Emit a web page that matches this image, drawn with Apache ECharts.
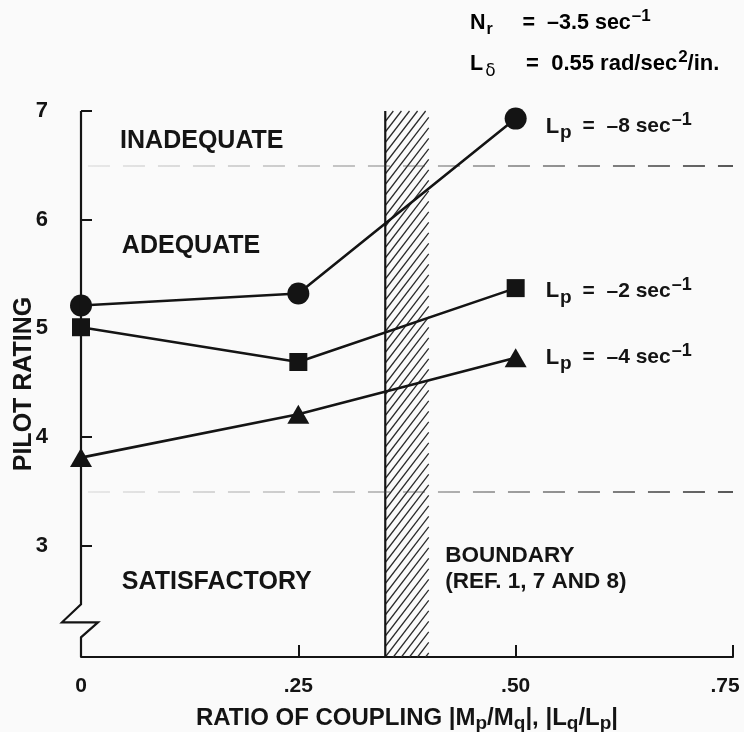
<!DOCTYPE html>
<html><head><meta charset="utf-8">
<script src="https://cdn.jsdelivr.net/npm/echarts@6/dist/echarts.min.js"></script>
<style>html,body{margin:0;padding:0;background:#fafafa}#c{width:744px;height:732px}</style>
</head><body><div id="c"></div>
<script>
// ---- data ----
const xTickValues = [0, 0.25, 0.5, 0.75];
const xTickLabels = ['0', '.25', '.50', '.75'];
const yTickValues = [3, 4, 5, 6, 7];
const couplingRatio = [0.0, 0.25, 0.5];
const ratingLp8 = [5.21, 5.32, 6.93];   // circles, Lp = -8
const ratingLp2 = [5.01, 4.69, 5.37];   // squares, Lp = -2
const ratingLp4 = [3.81, 4.21, 4.73];   // triangles, Lp = -4
const boundaryBand = [0.35, 0.40];
const regionLimits = [6.5, 3.5];
const regionNames = ['INADEQUATE', 'ADEQUATE', 'SATISFACTORY'];
const seriesNames = ['Lp = -8', 'Lp = -2', 'Lp = -4'];
const seriesLabelValues = ['–8', '–2', '–4'];

const FONT = 'Liberation Sans';
const INK = '#141414';
const yMin = 1.975, yMax = 7;

const chart = echarts.init(document.getElementById('c'), null, {renderer: 'canvas'});

function lpLabel(v) {
  return '{L|L}{sub|p}{eq| =  ' + v + ' sec}{sup|–1}';
}
const lpRich = {
  L: {fontFamily: FONT, fontWeight: 'bold', fontSize: 22, color: INK},
  sub: {fontFamily: FONT, fontWeight: 'bold', fontSize: 19, color: INK, padding: [13, 0, 0, 1]},
  eq: {fontFamily: FONT, fontWeight: 'bold', fontSize: 21, color: INK, padding: [0, 0, 0, 5]},
  sup: {fontFamily: FONT, fontWeight: 'bold', fontSize: 18, color: INK, padding: [0, 0, 13, 1]}
};

function makeLine(name, data, symbol, size, lbl, dy) {
  return {
    name: name, type: 'line',
    data: couplingRatio.map((x, i) => [x, data[i]]),
    symbol: symbol, symbolSize: size, showSymbol: true,
    lineStyle: {color: INK, width: 2.6},
    itemStyle: {color: INK},
    z: 5, silent: true, animation: false,
    endLabel: {
      show: true, distance: 30, offset: [0, dy],
      formatter: () => lpLabel(lbl), rich: lpRich
    }
  };
}

function hatchRender(params, api) {
  const x0 = api.coord([api.value(0), yMax])[0];
  const x1 = api.coord([api.value(1), yMax])[0];
  const yTop = api.coord([0, yMax])[1];
  const yBot = api.coord([0, yMin])[1];
  const w = x1 - x0, k = 1.3, step = 10.5;
  const children = [];
  for (let yb = yTop + step; yb < yBot + w * k; yb += step) {
    let sx = x0, sy = yb, ex = x1, ey = yb - w * k;
    if (sy > yBot) { sx = x0 + (sy - yBot) / k; sy = yBot; }
    if (ey < yTop) { ex = x0 + (yb - yTop) / k; ey = yTop; }
    if (sx >= ex) continue;
    children.push({type: 'line', shape: {x1: sx, y1: sy, x2: ex, y2: ey},
      style: {stroke: '#2a2a2a', lineWidth: 1.25}});
  }
  children.push({type: 'line', shape: {x1: x0, y1: yTop, x2: x0, y2: yBot},
    style: {stroke: INK, lineWidth: 2.2}});
  return {type: 'group', children: children};
}

const dashGrad = {type: 'linear', x: 0, y: 0, x2: 1, y2: 0,
  colorStops: [{offset: 0, color: 'rgba(60,60,60,0.12)'}, {offset: 0.5, color: 'rgba(60,60,60,0.45)'}, {offset: 1, color: 'rgba(20,20,20,0.95)'}]};

const option = {
  backgroundColor: '#fafafa',
  animation: false,
  grid: {left: 81, right: 11, top: 111, bottom: 75, containLabel: false, outerBoundsMode: 'none'},
  xAxis: {
    type: 'value', min: 0, max: 0.75,
    axisLine: {show: true, lineStyle: {color: INK, width: 2}},
    axisTick: {show: true, inside: true, length: 12, customValues: xTickValues.slice(1), lineStyle: {color: INK, width: 2}},
    axisLabel: {show: true, customValues: xTickValues, margin: 19,
      formatter: v => {
        const i = xTickValues.indexOf(+v.toFixed(2));
        if (i < 0) return '';
        return i === xTickValues.length - 1 ? '{e|' + xTickLabels[i] + '}' : xTickLabels[i];
      },
      rich: {e: {fontFamily: FONT, fontWeight: 'bold', fontSize: 21, color: INK, padding: [0, 16, 0, 0]}},
      fontFamily: FONT, fontWeight: 'bold', fontSize: 21, color: INK},
    splitLine: {show: false},
    name: '{t|RATIO OF COUPLING |M}{s|p}{t|/M}{s|q}{t||, |L}{s|q}{t|/L}{s|p}{t||}',
    nameLocation: 'middle', nameGap: 46, nameMoveOverlap: false,
    nameTextStyle: {rich: {
      t: {fontFamily: FONT, fontWeight: 'bold', fontSize: 24, color: INK},
      s: {fontFamily: FONT, fontWeight: 'bold', fontSize: 19, color: INK, padding: [11, 0, 0, 0]}
    }}
  },
  yAxis: {
    type: 'value', min: yMin, max: yMax,
    axisLine: {show: false},
    axisTick: {show: true, inside: true, length: 11, customValues: yTickValues, lineStyle: {color: INK, width: 2}},
    axisLabel: {show: true, customValues: yTickValues, margin: 33,
      fontFamily: FONT, fontWeight: 'bold', fontSize: 22, color: INK},
    splitLine: {show: false},
    name: 'PILOT RATING', nameLocation: 'middle', nameGap: 44, nameRotate: 90, nameMoveOverlap: false,
    nameTextStyle: {fontFamily: FONT, fontWeight: 'bold', fontSize: 25, color: INK}
  },
  series: [
    {
      name: 'boundary', type: 'custom', renderItem: hatchRender,
      data: [boundaryBand], silent: true, z: 2, clip: false
    },
    {
      name: 'limits', type: 'line', data: [], silent: true, z: 1,
      markLine: {
        silent: true, symbol: 'none', animation: false,
        label: {show: false},
        lineStyle: {type: [22, 13], width: 1.6, color: dashGrad},
        data: regionLimits.map(v => [{coord: [0.008, v]}, {coord: [0.75, v]}])
      }
    },
    makeLine(seriesNames[0], ratingLp8, 'circle', 22, seriesLabelValues[0], 8),
    makeLine(seriesNames[1], ratingLp2, 'rect', 18, seriesLabelValues[1], 3),
    makeLine(seriesNames[2], ratingLp4, 'triangle', [22, 19], seriesLabelValues[2], 0)
  ]
};
chart.setOption(option);

// axis line with break and text annotations positioned via the chart's own scales
const px = (x, y) => chart.convertToPixel({gridIndex: 0}, [x, y]);
const pTop = px(0, yMax), pBot = px(0, yMin), pBrk = px(0, 2.46);
const ax = pTop[0];
const bigStyle = {fontFamily: FONT, fontWeight: 'bold', fontSize: 25, fill: INK};
const smallStyle = {fontFamily: FONT, fontWeight: 'bold', fontSize: 22.5, fill: INK};
const textAt = (x, y, text, st) => {
  const p = px(x, y);
  return {type: 'text', x: p[0], y: p[1], silent: true, z: 10,
    style: Object.assign({text: text, verticalAlign: 'middle'}, st)};
};
const richTop = {
  b: {fontFamily: FONT, fontWeight: 'bold', fontSize: 21.5, color: INK},
  b2: {fontFamily: FONT, fontWeight: 'bold', fontSize: 22, color: INK},
  sub: {fontFamily: FONT, fontWeight: 'bold', fontSize: 16, color: INK, padding: [13, 0, 0, 1]},
  sup: {fontFamily: FONT, fontWeight: 'bold', fontSize: 17, color: INK, padding: [0, 0, 13, 1]},
  gsub: {fontFamily: 'DejaVu Sans', fontSize: 17, color: INK, padding: [15, 0, 0, 2]}
};
chart.setOption({
  graphic: [
    {type: 'polyline', silent: true, z: 10,
      shape: {points: [
        [ax, pTop[1]], [ax, pBrk[1]], [ax - 19, pBrk[1] + 18], [ax + 17, pBrk[1] + 18],
        [ax, pBrk[1] + 33], [ax, pBot[1]]
      ]},
      style: {stroke: INK, lineWidth: 2.2, fill: null}},
    textAt(0.045, 6.72, regionNames[0], bigStyle),
    textAt(0.047, 5.76, regionNames[1], bigStyle),
    textAt(0.047, 2.66, regionNames[2], bigStyle),
    textAt(0.419, 2.91, 'BOUNDARY', smallStyle),
    textAt(0.419, 2.67, '(REF. 1, 7 AND 8)', smallStyle),
    {type: 'text', x: 470, y: 23, silent: true, z: 10,
      style: {text: '{b|N}{sub|r}{b|     =  –3.5 sec}{sup|–1}', rich: richTop, verticalAlign: 'middle'}},
    {type: 'text', x: 470, y: 64, silent: true, z: 10,
      style: {text: '{b|L}{gsub|δ}{b2|     =  0.55 rad/sec}{sup|2}{b2|/in.}', rich: richTop, verticalAlign: 'middle'}}
  ]
});
</script>
</body></html>
